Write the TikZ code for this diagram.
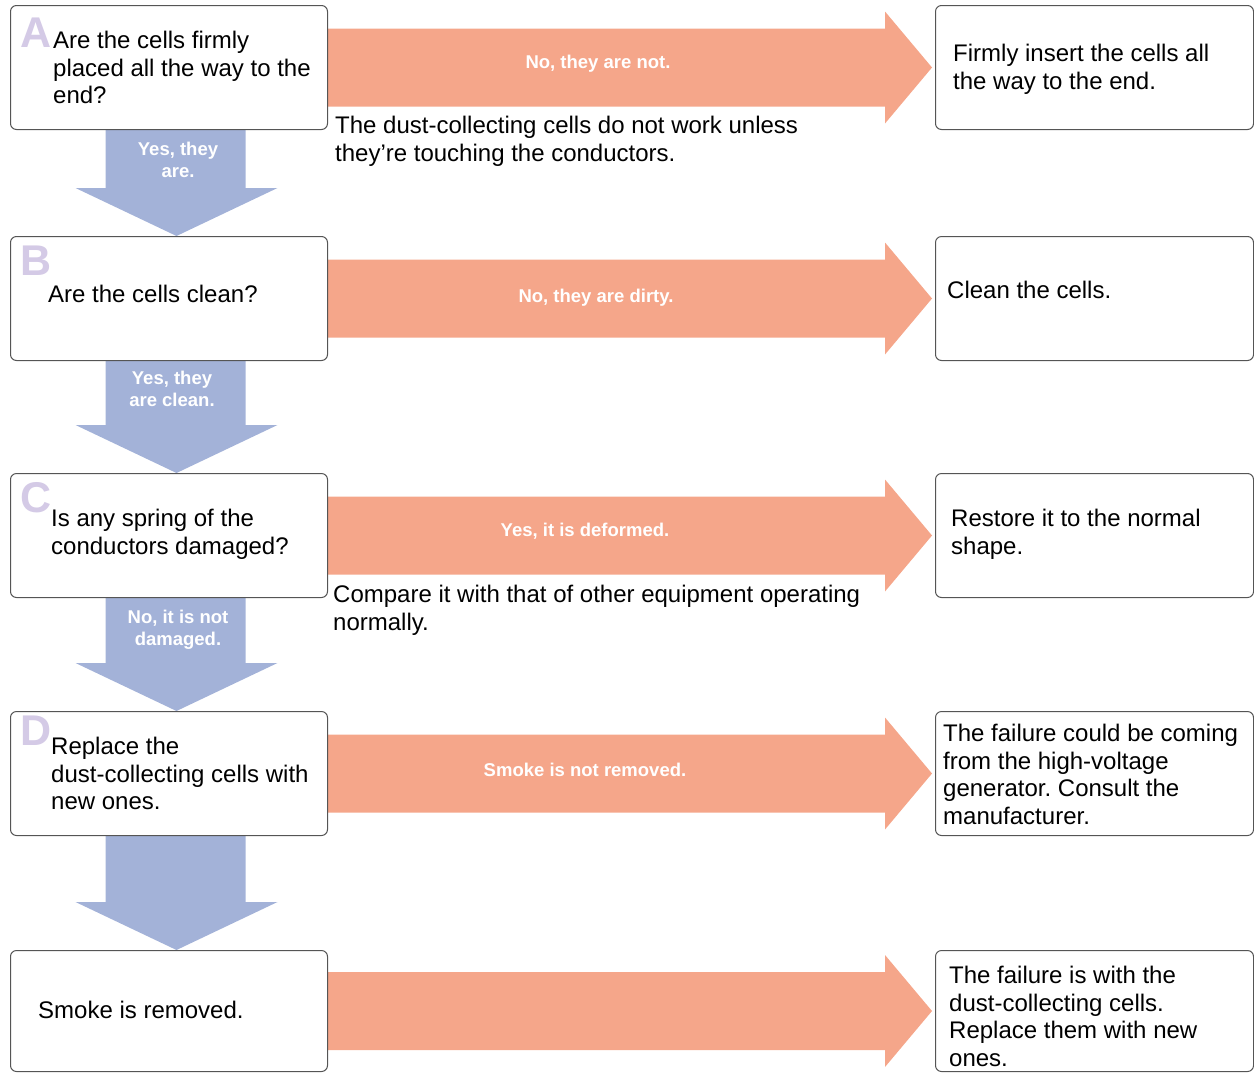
\documentclass[tikz,border=0pt]{standalone}
\usepackage{fontspec}
\setmainfont{Liberation Sans}
\usetikzlibrary{calc}
\pgfdeclarelayer{bg}
\pgfsetlayers{bg,main}
\definecolor{flowR}{RGB}{245,166,138}
\definecolor{flowD}{RGB}{163,178,216}
\definecolor{tagC}{RGB}{212,202,230}
\definecolor{edgeC}{RGB}{85,85,85}

\tikzset{
  stepbox/.style={draw=edgeC, line width=1pt, rounded corners=6pt, fill=white,
    anchor=north west, inner sep=0pt, minimum width=317pt, minimum height=124pt},
  body/.style={anchor=north west, inner sep=0pt, align=left,
    font=\fontsize{24}{27.5}\selectfont\frenchspacing},
  tag/.style={anchor=north west, inner sep=0pt, text=tagC,
    font=\fontsize{43}{43}\selectfont\bfseries},
  flowlabel/.style={text=white, align=center, inner sep=0pt,
    font=\fontsize{18.5}{22}\selectfont\bfseries\frenchspacing},
}

% wide arrow from the right side of one box to the left side of another
\newcommand\sideflow[2]{%
  \fill[flowR] let \p1=(#1.east), \p2=(#2.west) in
    (\x1,\y1+39) -- (\x2-50,\y1+39) -- (\x2-50,\y1+56) -- (\x2-3,\y1)
    -- (\x2-50,\y1-56) -- (\x2-50,\y1-39) -- (\x1,\y1-39) -- cycle;}
% wide arrow from the bottom of one box to the top of the next
\newcommand\downflow[2]{%
  \fill[flowD] let \p1=(#1.south), \p2=(#2.north) in
    (\x1-63.5,\y1) -- (\x1-63.5,\y2+48) -- (\x1-93.5,\y2+48) -- (\x1+7.5,\y2)
    -- (\x1+108.5,\y2+48) -- (\x1+76.5,\y2+48) -- (\x1+76.5,\y1) -- cycle;}

\begin{document}
\begin{tikzpicture}[x=1pt,y=-1pt]
\useasboundingbox (0,0) rectangle (1254,1072);

% question boxes
\node[stepbox] (bA) at (10,5) {};
\node[stepbox] (bB) at (10,236) {};
\node[stepbox] (bC) at (10,473) {};
\node[stepbox] (bD) at (10,711) {};
\node[stepbox, minimum height=121pt] (bE) at (10,950) {};

% remedy boxes
\node[stepbox, minimum width=318pt] (rA) at (935,5) {};
\node[stepbox, minimum width=318pt] (rB) at (935,236) {};
\node[stepbox, minimum width=318pt] (rC) at (935,473) {};
\node[stepbox, minimum width=318pt] (rD) at (935,711) {};
\node[stepbox, minimum width=318pt, minimum height=121pt] (rE) at (935,950) {};

\begin{pgfonlayer}{bg}
  \sideflow{bA}{rA}
  \sideflow{bB}{rB}
  \sideflow{bC}{rC}
  \sideflow{bD}{rD}
  \sideflow{bE}{rE}
  \downflow{bA}{bB}
  \downflow{bB}{bC}
  \downflow{bC}{bD}
  \downflow{bD}{bE}
\end{pgfonlayer}

% step letters
\node[tag] (gA) at (20,18) {A};
\node[tag] (gB) at (20,246) {B};
\node[tag] (gC) at (20,482) {C};
\node[tag] (gD) at (20,716) {D};

% question texts
\node[body] (tA) at (53,31) {Are the cells firmly\\placed all the way to the\\end?};
\node[body] (tB) at (48,285) {Are the cells clean?};
\node[body] (tC) at (51,509) {Is any spring of the\\conductors damaged?};
\node[body] (tD) at (51,737) {Replace the\\dust-collecting cells with\\new ones.};
\node[body] (tE) at (38,1001) {Smoke is removed.};

% remedy texts
\node[body] (uA) at (953,44) {Firmly insert the cells all\\the way to the end.};
\node[body] (uB) at (947,281) {Clean the cells.};
\node[body] (uC) at (951,509) {Restore it to the normal\\shape.};
\node[body] (uD) at (943,724) {The failure could be coming\\from the high-voltage\\generator. Consult the\\manufacturer.};
\node[body] (uE) at (949,966) {The failure is with the\\dust-collecting cells.\\Replace them with new\\ones.};

% notes
\node[body] (nA) at (335,116) {The dust-collecting cells do not work unless\\they’re touching the conductors.};
\node[body] (nC) at (333,585) {Compare it with that of other equipment operating\\normally.};

% arrow labels
\node[flowlabel] (lA) at (598,64) {No, they are not.};
\node[flowlabel] (lB) at (596,298) {No, they are dirty.};
\node[flowlabel] (lC) at (585,531) {Yes, it is deformed.};
\node[flowlabel] (lD) at (585,770) {Smoke is not removed.};
\node[flowlabel] (kA) at (178,160) {Yes, they\\are.};
\node[flowlabel] (kB) at (172,389) {Yes, they\\are clean.};
\node[flowlabel] (kC) at (178,630) {No, it is not\\damaged.};
\end{tikzpicture}
\end{document}
